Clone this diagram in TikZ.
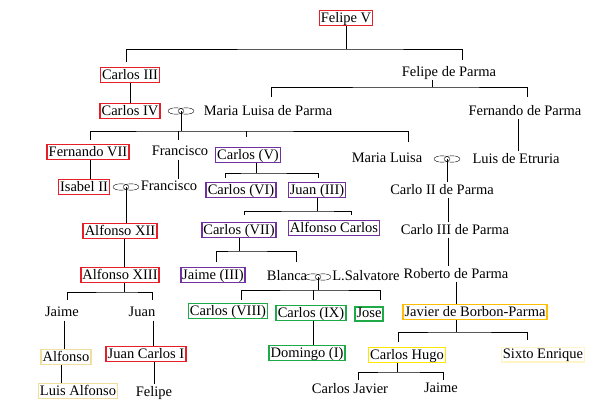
\documentclass[tikz,border=0pt]{standalone}
\usepackage{fontspec}
\setmainfont{Liberation Serif}
\usetikzlibrary{calc}
\definecolor{kred}{RGB}{230,30,40}
\definecolor{kpurple}{RGB}{112,48,160}
\definecolor{kgreen}{RGB}{30,170,70}
\definecolor{korange}{RGB}{255,190,0}
\definecolor{kyellow}{RGB}{255,230,0}
\definecolor{klight}{RGB}{240,222,160}
\definecolor{kpale}{RGB}{255,245,200}
\newcommand{\marry}[2]{%
  \draw[thin] ($(#2)+(-5,0)$) ellipse (8pt and 3.2pt);
  \draw[thin] ($(#2)+(5,0)$) ellipse (8pt and 3.2pt);
  \coordinate (#1) at (#2);}
\begin{document}
\begin{tikzpicture}[x=1pt,y=-1pt,line width=.8pt,
  every node/.style={font=\fontsize{14.5}{16}\selectfont,inner sep=1.5pt,text depth=2pt},
  king/.style={draw=kred,line width=1.6pt},
  carl/.style={draw=kpurple,line width=1.6pt},
  carlb/.style={draw=kgreen,line width=1.6pt},
  carlc/.style={draw=korange,line width=1.6pt},
  carld/.style={draw=kyellow,line width=1.6pt},
  other/.style={draw=klight,line width=1.6pt},
  othe/.style={draw=kpale,line width=1.6pt}]
\useasboundingbox (0,0) rectangle (616,419);

\node[king] (felipev) at (346,18) {Felipe V};
\node[king] (carlosiii) at (130,75) {Carlos III};
\node (felipepa) at (449,72) {Felipe de Parma};
\node[king] (carlosiv) at (130,111) {Carlos IV};
\marry{m1}{181,111}
\node (mlparma) at (268,111) {Maria Luisa de Parma};
\node (fernandop) at (525,111) {Fernando de Parma};
\node[king] (fernandovii) at (88,152) {Fernando VII};
\node (francisco) at (180,152) {Francisco};
\node[carl] (carlosv) at (248,155) {Carlos (V)};
\node (mluisa) at (387,159) {Maria Luisa};
\marry{m4}{447,159}
\node (luis) at (516,159) {Luis de Etruria};
\node[king] (isabel) at (84,187) {Isabel II};
\marry{m2}{126,187}
\node (franciscob) at (169,187) {Francisco};
\node[carl] (carlosvi) at (241,190) {Carlos (VI)};
\node[carl] (juaniii) at (317,190) {Juan (III)};
\node (carloii) at (442,190) {Carlo II de Parma};
\node[king] (alfonsoxii) at (120,231) {Alfonso XII};
\node[carl] (carlosvii) at (239,230) {Carlos (VII)};
\node[carl] (alfonsoc) at (334,228) {Alfonso Carlos};
\node (carloiii) at (455,230) {Carlo III de Parma};
\node[king] (alfonsoxiii) at (120,275) {Alfonso XIII};
\node[carl] (jaimeiii) at (213,275) {Jaime (III)};
\node (blanca) at (287,276) {Blanca};
\marry{m3}{318,277}
\node (salvatore) at (366,276) {L.Salvatore};
\node (roberto) at (456,274) {Roberto de Parma};
\node (jaime) at (62,313) {Jaime};
\node (juan) at (142,313) {Juan};
\node[carlb] (carlosviii) at (228,311) {Carlos (VIII)};
\node[carlb] (carlosix) at (311,313) {Carlos (IX)};
\node[carlb] (jose) at (369,314) {Jose};
\node[carlc] (javier) at (475,312) {Javier de Borbon-Parma};
\node[other] (alfonso) at (66,357) {Alfonso};
\node[king] (jcarlos) at (146,354) {Juan Carlos I};
\node[carlb] (domingo) at (307,353) {Domingo (I)};
\node[carld] (carloshugo) at (407,355) {Carlos Hugo};
\node[othe] (sixto) at (543,355) {Sixto Enrique};
\node[other] (luisalf) at (78,391) {Luis Alfonso};
\node (felipe) at (154,392) {Felipe};
\node (carlosj) at (350,389) {Carlos Javier};
\node (jaimeb) at (441,389) {Jaime};

% junctions
\coordinate (j0) at (346,49);
\coordinate (j1) at (432,87);
\coordinate (j2) at (181,131);
\coordinate (j3) at (256,173);
\coordinate (j4) at (317,211);
\coordinate (j5) at (239,251);
\coordinate (j6) at (318,290);
\coordinate (j7) at (124,292);
\coordinate (j8) at (456,332);
\coordinate (j9) at (397,372);

\draw (felipev) -- (j0);
\draw (126,62) |- (j0) -| (462,60);
\draw (carlosiii) -- (carlosiv);
\draw (felipepa.south -| j1) -- (j1);
\draw (271,97) |- (j1) -| (527,97);
\draw (fernandop.south -| 518,0) -- (luis.north -| 518,0);
\draw (m1) -- (j2);
\draw (90,140) |- (j2) -| (408,142);
\draw (178,140) -- (178,131) (246,137) -- (246,131);
\draw (fernandovii.south -| 90,0) -- (isabel.north -| 90,0);
\draw (francisco.south -| 178,0) -- (franciscob.north -| 178,0);
\draw (carlosv.south -| j3) -- (j3);
\draw (225,178) |- (j3) -| (318,178);
\draw (m2) -- (alfonsoxii.north -| m2);
\draw (alfonsoxii.south -| j7) -- (alfonsoxiii.north -| j7);
\draw (alfonsoxiii.south -| j7) -- (j7);
\draw (67,300) |- (j7) -| (152,300);
\draw (jaime.south -| 64,0) -- (alfonso.north -| 64,0);
\draw (alfonso.south -| 61,0) -- (luisalf.north -| 61,0);
\draw (juan.south -| 153,0) -- (jcarlos.north -| 153,0);
\draw (jcarlos.south -| 154,0) -- (felipe.north -| 154,0);
\draw (juaniii.south -| j4) -- (j4);
\draw (244,215) |- (j4) -| (351,215);
\draw (carlosvii.south -| j5) -- (j5);
\draw (216,262) |- (j5) -| (296,262);
\draw (m3) -- (j6);
\draw (241,300) |- (j6) -| (380,300);
\draw (313,300) -- (313,290);
\draw (carlosix.south -| 313,0) -- (domingo.north -| 313,0);
\draw (m4) -- (carloii.north -| m4);
\draw (carloii.south -| 448,0) -- (carloiii.north -| 448,0);
\draw (carloiii.south -| 448,0) -- (roberto.north -| 448,0);
\draw (roberto.south -| j8) -- (javier.north -| j8);
\draw (javier.south -| j8) -- (j8);
\draw (398,342) |- (j8) -| (527,340);
\draw (carloshugo.south -| j9) -- (j9);
\draw (358,380) |- (j9) -| (443,380);
\end{tikzpicture}
\end{document}
